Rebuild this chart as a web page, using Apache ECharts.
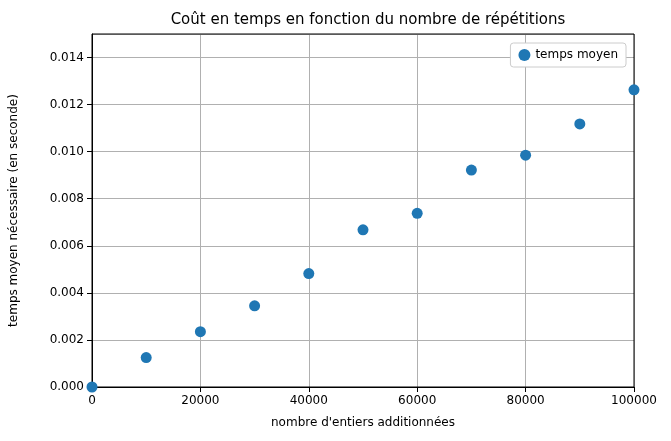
<!DOCTYPE html><html><head><meta charset="utf-8"><script src="https://cdn.jsdelivr.net/npm/echarts@6/dist/echarts.min.js"></script></head><body style="margin:0;background:#fff"><div id="c" style="width:671px;height:441px"></div><script>
const xs=[0,10000,20000,30000,40000,50000,60000,70000,80000,90000,100000];
const ys=[0,0.00125,0.00235,0.00345,0.00482,0.00668,0.00738,0.00922,0.00985,0.01118,0.01263];
const ch=echarts.init(document.getElementById('c'));
const f='DejaVu Sans';
ch.setOption({animation:false,
title:{text:'Coût en temps en fonction du nombre de répétitions',left:363,top:8,textAlign:'center',textStyle:{fontFamily:f,fontSize:15,fontWeight:'normal',color:'#000'}},
legend:{right:45,top:43,data:['temps moyen'],itemWidth:12,itemHeight:12,backgroundColor:'#fff',borderColor:'#ccc',borderWidth:1,borderRadius:3,padding:[6,8],textStyle:{fontFamily:f,fontSize:12,color:'#000'}},
grid:{left:92,right:37,top:34,bottom:54},
xAxis:{type:'value',min:0,max:100000,interval:20000,name:"nombre d'entiers additionnées",nameLocation:'middle',nameGap:30,nameTextStyle:{fontFamily:f,fontSize:12,color:'#000'},
axisLine:{onZero:false,lineStyle:{color:'#000'}},axisTick:{show:true,lineStyle:{color:'#000'}},axisLabel:{fontFamily:f,fontSize:12,color:'#000',formatter:v=>String(v)},splitLine:{lineStyle:{color:'#b0b0b0'}}},
yAxis:{type:'value',min:0,max:0.015,interval:0.002,name:'temps moyen nécessaire (en seconde)',nameLocation:'middle',nameGap:72,nameTextStyle:{fontFamily:f,fontSize:12,color:'#000'},
axisLine:{show:true,lineStyle:{color:'#000'}},axisTick:{show:true,lineStyle:{color:'#000'}},axisLabel:{fontFamily:f,fontSize:12,color:'#000',showMaxLabel:false,formatter:v=>v.toFixed(3)},splitLine:{lineStyle:{color:'#b0b0b0'}}},
series:[{name:'temps moyen',type:'scatter',symbolSize:11,itemStyle:{color:'#1f77b4',opacity:1},data:xs.map((x,i)=>[x,ys[i]]),clip:false}]
});
ch.setOption({graphic:[{type:'rect',shape:{x:92,y:34,width:542,height:353},style:{fill:'none',stroke:'#000',lineWidth:1},silent:true}]});
</script></body></html>
